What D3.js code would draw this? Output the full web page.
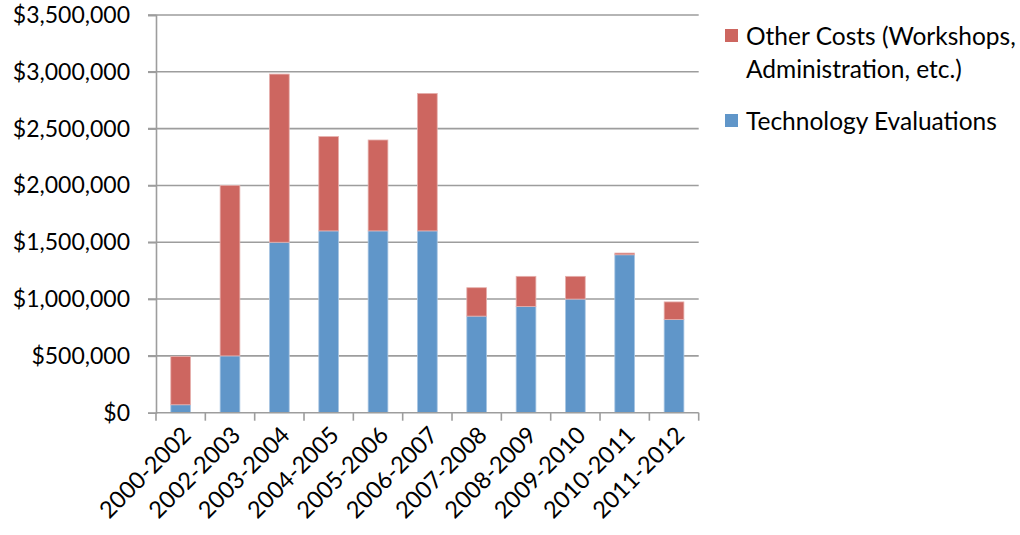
<!DOCTYPE html>
<html>
<head>
<meta charset="utf-8">
<script src="https://cdn.jsdelivr.net/npm/d3@7"></script>
<style>
  html, body { margin: 0; padding: 0; background: #fff; }
  svg { display: block; font-family: Lato, "Open Sans", sans-serif; }
</style>
</head>
<body>
<svg id="chart" width="1020" height="535"></svg>
<script>
// Program years
const categories = ["2000-2002", "2002-2003", "2003-2004", "2004-2005", "2005-2006", "2006-2007",
                    "2007-2008", "2008-2009", "2009-2010", "2010-2011", "2011-2012"];
// Spending per year, in dollars
const technologyEvaluations = [70000, 500000, 1500000, 1600000, 1600000, 1600000,
                               850000, 935000, 1000000, 1390000, 820000];
const otherCosts = [425000, 1500000, 1480000, 830000, 800000, 1210000,
                    250000, 265000, 200000, 15000, 155000];
const yTicks = [0, 500000, 1000000, 1500000, 2000000, 2500000, 3000000, 3500000];
const legendLines = [["Other Costs (Workshops,", "Administration, etc.)"], ["Technology Evaluations"]];
const colors = { tech: "#6096C9", other: "#CD6660" };

const svg = d3.select("#chart");
const plot = { left: 156, right: 698.7, top: 15, bottom: 412.7 };

const x = d3.scaleBand().domain(categories).range([plot.left, plot.right]).paddingInner(0.6).paddingOuter(0.3);
const xTicks = d3.scaleBand().domain(categories).range([plot.left, plot.right]);
const y = d3.scaleLinear().domain([0, 3500000]).range([plot.bottom, plot.top]);

const fmt = v => "$" + d3.format(",")(v);

// Horizontal gridlines
svg.append("g").selectAll("line").data(yTicks.filter(v => v > 0)).join("line")
  .attr("x1", plot.left - 8).attr("x2", plot.right)
  .attr("y1", d => y(d)).attr("y2", d => y(d))
  .attr("stroke", "#9d9d9d").attr("stroke-width", 1.6);

// Stacked bars
const rows = categories.map((c, i) => ({ cat: c, tech: technologyEvaluations[i], other: otherCosts[i] }));
const stack = d3.stack().keys(["tech", "other"])(rows);
svg.append("g").selectAll("g").data(stack).join("g")
  .attr("fill", d => colors[d.key])
  .attr("stroke", d => d.key === "tech" ? "#a9c6e3" : "#e6b0ad")
  .attr("stroke-width", 0.8)
  .selectAll("rect").data(d => d).join("rect")
  .attr("x", d => x(d.data.cat))
  .attr("width", x.bandwidth())
  .attr("y", d => y(d[1]))
  .attr("height", d => y(d[0]) - y(d[1]));

// Y axis
const yAxis = svg.append("g").attr("transform", `translate(${plot.left},0)`)
  .call(d3.axisLeft(y).tickValues(yTicks).tickFormat(fmt).tickSize(8).tickPadding(18));
yAxis.select(".domain").attr("stroke", "#9d9d9d").attr("stroke-width", 1.6);
yAxis.selectAll(".tick line").attr("stroke", "#9d9d9d").attr("stroke-width", 1.6);
yAxis.selectAll(".tick text").attr("fill", "#000").style("font-size", "23px")
  .style("font-family", "Lato, 'Open Sans', sans-serif");

// X axis with boundary ticks between categories
svg.append("line").attr("x1", plot.left).attr("x2", plot.right)
  .attr("y1", plot.bottom).attr("y2", plot.bottom)
  .attr("stroke", "#9d9d9d").attr("stroke-width", 1.6);
const bounds = categories.map(c => xTicks(c)).concat([plot.right]);
svg.append("g").selectAll("line").data(bounds).join("line")
  .attr("x1", d => d).attr("x2", d => d)
  .attr("y1", plot.bottom).attr("y2", plot.bottom + 8)
  .attr("stroke", "#9d9d9d").attr("stroke-width", 1.6);

// Rotated category labels
svg.append("g").selectAll("text").data(categories).join("text")
  .attr("transform", d => `translate(${x(d) + x.bandwidth() / 2 + 6},${plot.bottom + 18}) rotate(-45)`)
  .attr("text-anchor", "end")
  .attr("dy", "0.35em")
  .style("font-size", "23.5px")
  .attr("fill", "#000")
  .text(d => d);

// Legend
const legend = svg.append("g");
const legendItems = [
  { color: colors.other, lines: legendLines[0], y: 36 },
  { color: colors.tech, lines: legendLines[1], y: 121 }
];
legendItems.forEach(item => {
  legend.append("rect").attr("x", 725).attr("y", item.y - 7).attr("width", 13).attr("height", 13)
    .attr("fill", item.color);
  item.lines.forEach((line, j) => {
    legend.append("text").attr("x", 746).attr("y", item.y + j * 33)
      .attr("dy", "0.35em").style("font-size", "24.5px").attr("fill", "#000").text(line);
  });
});
</script>
</body>
</html>
